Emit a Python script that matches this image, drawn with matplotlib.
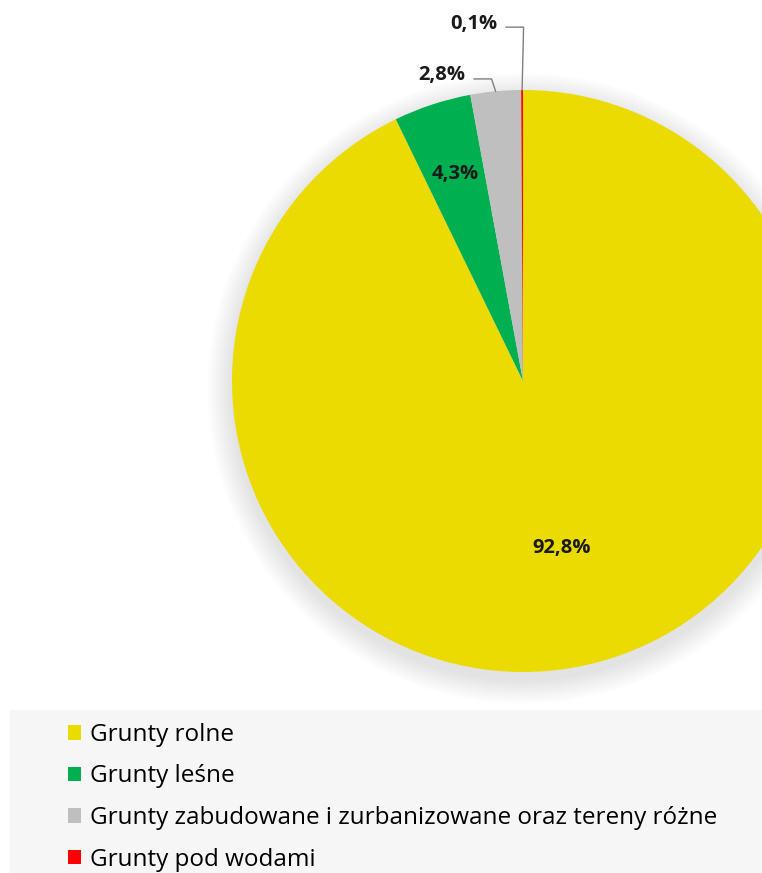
import numpy as np
import matplotlib.pyplot as plt
from matplotlib.patches import Circle, Rectangle

plt.rcParams["font.family"] = ["Open Sans", "DejaVu Sans"]

kategorie = ["Grunty rolne", "Grunty leśne",
             "Grunty zabudowane i zurbanizowane oraz tereny różne",
             "Grunty pod wodami"]
udzialy = [92.8, 4.3, 2.8, 0.1]
etykiety = ["92,8%", "4,3%", "2,8%", "0,1%"]
kolory = ["#ebdb00", "#00b050", "#bfbfbf", "#ff0000"]

W, H = 762, 873
fig = plt.figure(figsize=(W / 100, H / 100), dpi=100)

# tlo legendy
fig.patches.append(Rectangle((10 / W, 0), 1, (H - 710) / H, transform=fig.transFigure,
                             facecolor="#f6f6f6", edgecolor="none", zorder=0))

cx, cy, r = 523, 381, 291
ax = fig.add_axes([(cx - r) / W, (H - cy - r) / H, 2 * r / W, 2 * r / H])

wedges, _ = ax.pie(udzialy, colors=kolory, startangle=90, counterclock=False,
                   radius=1.0, wedgeprops=dict(linewidth=0))
for w in wedges:
    w.set_zorder(2)
ax.set_xlim(-1, 1)
ax.set_ylim(-1, 1)
ax.axis("off")

# miekki cien pod kolem
for i in range(14):
    ax.add_patch(Circle((0.0, -0.025), 1.0 + 0.006 * (14 - i), facecolor="#9090a0",
                        edgecolor="none", alpha=0.014, zorder=0, clip_on=False))

def kat(w):
    return np.deg2rad((w.theta1 + w.theta2) / 2)

# 92,8% i 4,3% wewnatrz
for i, d in [(0, 0.59), (1, 0.75)]:
    a = kat(wedges[i])
    ax.text(d * np.cos(a), d * np.sin(a), etykiety[i], ha="center", va="center",
            fontsize=14.5, fontweight="bold", color="#1a1a1a", zorder=5)

# male wycinki z liniami odniesienia
for i, (tx, ty) in [(2, (-0.278, 1.05)), (3, (-0.168, 1.228))]:
    a = kat(wedges[i])
    ex, ey = np.cos(a), np.sin(a)
    ax.text(tx, ty, etykiety[i], ha="center", va="center", fontsize=14.5,
            fontweight="bold", color="#1a1a1a", zorder=5, clip_on=False)
    x0 = tx + 0.11
    ax.plot([x0, x0 + 0.06, ex], [ty - 0.012, ty - 0.012, ey], color="#7f7f7f",
            lw=1.0, zorder=4, clip_on=False)

handles = [Rectangle((0, 0), 1, 1, facecolor=c, edgecolor="none") for c in kolory]
fig.legend(handles, kategorie, loc="upper left", bbox_to_anchor=(68 / W, (H - 723) / H),
           frameon=False, fontsize=17.5, handlelength=0.55, handleheight=0.55,
           handletextpad=0.35, labelspacing=0.72, borderpad=0, borderaxespad=0)

fig.savefig("out.png", dpi=100)
